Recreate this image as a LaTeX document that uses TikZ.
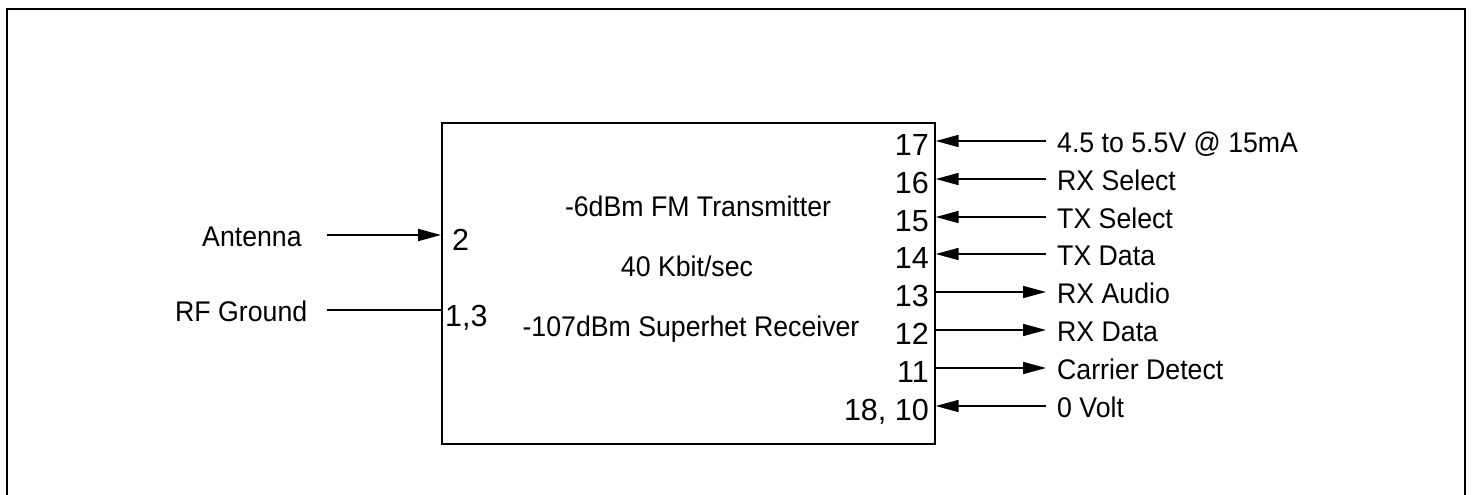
\documentclass[tikz,border=0pt]{standalone}
\usepackage{fontspec}
\setmainfont{Liberation Sans}
\newfontfamily\labfont[FakeStretch=0.94]{Liberation Sans}
\newfontfamily\pinfont{Liberation Sans}
\usetikzlibrary{arrows.meta}
\tikzset{
  lbl/.style={font=\labfont\fontsize{28.4}{32}\selectfont, anchor=base west, inner sep=0pt},
  pin/.style={font=\pinfont\fontsize{30.5}{34}\selectfont, anchor=base east, inner sep=0pt},
  pinl/.style={font=\pinfont\fontsize{30.5}{34}\selectfont, anchor=base west, inner sep=0pt},
  ctr/.style={font=\labfont\fontsize{28.4}{32}\selectfont, anchor=base, inner sep=0pt},
  wire/.style={line width=1.7pt},
  sig/.style={wire, -{Triangle[length=23pt,width=12pt]}},
}
\begin{document}
\begin{tikzpicture}[x=1pt,y=-1pt]
\useasboundingbox (0,0) rectangle (1473,495);
% outer frame
\draw[line width=2.5pt] (7,520) -- (7,9) -- (1465,9) -- (1465,520);
% module box
\node[draw, line width=1.7pt, minimum width=493pt, minimum height=321pt, anchor=north west, inner sep=0pt] (mod) at (441,122) {};
% centre text
\node[ctr] (t1) at (698,216) {-6dBm FM Transmitter};
\node[ctr] (t2) at (687,276) {40 Kbit/sec};
\node[ctr] (t3) at (691,336) {-107dBm Superhet Receiver};
% left side
\coordinate (cA) at (327,235);
\coordinate (cG) at (327,310);
\node[lbl] (lA) at (202,246) {Antenna};
\node[lbl] (lG) at (175,321) {RF Ground};
\node[pinl] (p2) at (452,250) {2};
\node[pinl] (p13) at (445,326) {1,3};
\draw[sig] (cA) -- (mod.west |- cA);
\draw[wire] (cG) -- (mod.west |- cG);
% right side free ends
\coordinate (c17) at (1046,141);
\coordinate (c16) at (1046,179);
\coordinate (c15) at (1046,217);
\coordinate (c14) at (1046,254);
\coordinate (c13) at (1046,292);
\coordinate (c12) at (1046,330);
\coordinate (c11) at (1046,368);
\coordinate (c10) at (1046,406);
% pin numbers
\node[pin] (n17) at (929,155) {17};
\node[pin] (n16) at (929,193) {16};
\node[pin] (n15) at (929,231) {15};
\node[pin] (n14) at (929,268) {14};
\node[pin] (n13) at (929,306) {13};
\node[pin] (n12) at (929,344) {12};
\node[pin] (n11) at (929,382) {11};
\node[pin] (n10) at (929,420) {18, 10};
% labels
\node[lbl] (l17) at (1057,152) {4.5 to 5.5V @ 15mA};
\node[lbl] (l16) at (1057,190) {RX Select};
\node[lbl] (l15) at (1057,228) {TX Select};
\node[lbl] (l14) at (1057,265) {TX Data};
\node[lbl] (l13) at (1057,303) {RX Audio};
\node[lbl] (l12) at (1057,341) {RX Data};
\node[lbl] (l11) at (1057,379) {Carrier Detect};
\node[lbl] (l10) at (1057,417) {0 Volt};
% connectors
\draw[sig] (c17) -- (mod.east |- c17);
\draw[sig] (c16) -- (mod.east |- c16);
\draw[sig] (c15) -- (mod.east |- c15);
\draw[sig] (c14) -- (mod.east |- c14);
\draw[sig] (mod.east |- c13) -- (c13);
\draw[sig] (mod.east |- c12) -- (c12);
\draw[sig] (mod.east |- c11) -- (c11);
\draw[sig] (c10) -- (mod.east |- c10);
\end{tikzpicture}
\end{document}
